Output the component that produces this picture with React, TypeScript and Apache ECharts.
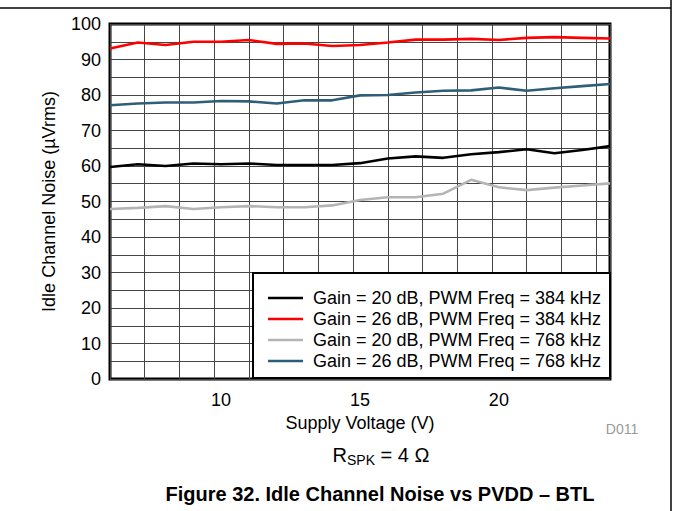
import React, { useEffect, useRef } from "react";
import * as echarts from "echarts";

const supplyVoltage = [6, 7, 8, 9, 10, 11, 12, 13, 14, 15, 16, 17, 18, 19, 20, 21, 22, 23, 24];
const gain20Pwm384 = [59.7, 60.5, 60.0, 60.7, 60.5, 60.7, 60.3, 60.3, 60.3, 60.8, 62.1, 62.7, 62.3, 63.3, 63.9, 64.7, 63.6, 64.5, 65.6];
const gain26Pwm384 = [93.1, 94.8, 94.1, 95.0, 95.0, 95.5, 94.4, 94.5, 93.8, 94.1, 94.8, 95.6, 95.6, 95.8, 95.5, 96.1, 96.3, 96.1, 95.9];
const gain20Pwm768 = [47.9, 48.2, 48.7, 47.9, 48.4, 48.7, 48.4, 48.4, 48.9, 50.4, 51.2, 51.2, 52.2, 56.1, 54.0, 53.2, 53.9, 54.5, 55.1];
const gain26Pwm768 = [77.1, 77.6, 77.9, 77.9, 78.3, 78.2, 77.6, 78.5, 78.5, 79.9, 80.0, 80.7, 81.2, 81.3, 82.1, 81.2, 81.9, 82.5, 83.1];

const seriesNames = [
  "Gain = 20 dB, PWM Freq = 384 kHz",
  "Gain = 26 dB, PWM Freq = 384 kHz",
  "Gain = 20 dB, PWM Freq = 768 kHz",
  "Gain = 26 dB, PWM Freq = 768 kHz",
];
const seriesColors = ["#000000", "#ff0000", "#b4b4b4", "#2f5e78"];
const xLabelValues = [10, 15, 20];

const FONT = "'Liberation Sans', Arial, Helvetica, sans-serif";

export default function App() {
  const ref = useRef<HTMLDivElement>(null);

  useEffect(() => {
    document.body.style.margin = "0";
    if (!ref.current) return;
    const chart = echarts.init(ref.current, undefined, { renderer: "svg" });
    const allData = [gain20Pwm384, gain26Pwm384, gain20Pwm768, gain26Pwm768];

    chart.setOption({
      animation: false,
      backgroundColor: "#ffffff",
      textStyle: { fontFamily: FONT },
      grid: {
        left: 110,
        top: 24,
        right: 63,
        bottom: 132,
        show: true,
        borderColor: "#000",
        borderWidth: 3,
        backgroundColor: "transparent",
      },
      xAxis: [
        {
          type: "value",
          min: 6,
          max: 24,
          interval: 1.25,
          axisLine: { show: false },
          axisTick: { show: false },
          axisLabel: { show: false },
          splitLine: { show: true, lineStyle: { color: "#444", width: 1 } },
        },
        {
          type: "value",
          min: 6,
          max: 24,
          interval: 1,
          position: "bottom",
          axisLine: { show: false },
          axisTick: { show: false },
          splitLine: { show: false },
          axisLabel: {
            show: true,
            margin: 12,
            fontSize: 18,
            color: "#000",
            fontFamily: FONT,
            formatter: (v: number) => (xLabelValues.indexOf(v) >= 0 ? String(v) : ""),
          },
          name: "Supply Voltage (V)",
          nameLocation: "middle",
          nameGap: 32,
          nameTextStyle: { fontSize: 18, color: "#000", fontFamily: FONT },
        },
      ],
      yAxis: {
        type: "value",
        min: 0,
        max: 100,
        interval: 5,
        axisLine: { show: false },
        axisTick: { show: false },
        axisLabel: {
          margin: 9,
          fontSize: 18,
          color: "#000",
          fontFamily: FONT,
          formatter: (v: number) => (v % 10 === 0 ? String(v) : ""),
        },
        splitLine: { show: true, lineStyle: { color: "#444", width: 1 } },
        name: "Idle Channel Noise (µVrms)",
        nameLocation: "middle",
        nameGap: 52,
        nameTextStyle: { fontSize: 18, color: "#000", fontFamily: FONT },
      },
      legend: {
        show: true,
        orient: "vertical",
        left: 263,
        top: 284,
        itemWidth: 35,
        itemHeight: 2.5,
        itemGap: 3,
        icon: "rect",
        z: 60,
        data: seriesNames,
        textStyle: { fontSize: 18, color: "#000", fontFamily: FONT, lineHeight: 18, padding: [0, 0, 0, 5] },
      },
      graphic: [
        {
          type: "rect",
          z: 50,
          shape: { x: 253, y: 273, width: 357, height: 105 },
          style: { fill: "#fff", stroke: "#000", lineWidth: 2 },
        },
        {
          type: "line",
          z: 50,
          shape: { x1: 0, y1: 8, x2: 671, y2: 8 },
          style: { stroke: "#000", lineWidth: 1.5 },
        },
        {
          type: "line",
          z: 50,
          shape: { x1: 671, y1: 0, x2: 671, y2: 511 },
          style: { stroke: "#000", lineWidth: 1.5 },
        },
        {
          type: "text",
          z: 50,
          x: 622,
          y: 429,
          style: {
            text: "D011",
            fill: "#999",
            fontSize: 14,
            fontFamily: FONT,
            align: "center",
            verticalAlign: "middle",
          },
        },
        {
          type: "text",
          z: 50,
          x: 381,
          y: 455,
          style: {
            text: "{r|R}{s|SPK}{r| = 4 Ω}",
            align: "center",
            verticalAlign: "middle",
            fontFamily: FONT,
            rich: {
              r: { fontSize: 20, fill: "#000", fontFamily: FONT, verticalAlign: "middle" },
              s: { fontSize: 14, fill: "#000", fontFamily: FONT, padding: [10, 0, 0, 0] },
            },
          },
        },
        {
          type: "text",
          z: 50,
          x: 380,
          y: 494,
          style: {
            text: "Figure 32. Idle Channel Noise vs PVDD – BTL",
            fill: "#000",
            fontSize: 20,
            fontWeight: "bold",
            fontFamily: FONT,
            align: "center",
            verticalAlign: "middle",
          },
        },
      ],
      series: allData.map((vals, i) => ({
        type: "line",
        name: seriesNames[i],
        xAxisIndex: 0,
        yAxisIndex: 0,
        data: supplyVoltage.map((x, j) => [x, vals[j]]),
        showSymbol: false,
        symbol: "none",
        smooth: false,
        color: seriesColors[i],
        lineStyle: { color: seriesColors[i], width: 2.6 },
        z: 5,
      })),
    });

    return () => {
      chart.dispose();
    };
  }, []);

  return (
    <div
      ref={ref}
      style={{ position: "absolute", left: 0, top: 0, width: 673, height: 511 }}
    />
  );
}
